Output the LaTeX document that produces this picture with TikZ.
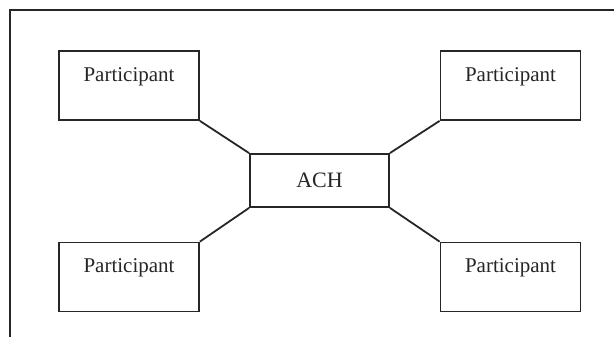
\documentclass[tikz,border=0pt]{standalone}
\usepackage{fontspec}
\setmainfont{Liberation Serif}
\begin{document}
\begin{tikzpicture}[x=1pt,y=-1pt,
  line/.style={draw=black!85, line width=1.8pt},
  pbox/.style={line, rectangle, minimum width=140pt, minimum height=69pt, inner sep=0pt},
  ptext/.style={anchor=base, yshift=-31pt, font=\fontsize{21}{25}\selectfont, text=black!85}]
\useasboundingbox (0,0) rectangle (614,337);
\draw[draw=black!85, line width=1.3pt] (614,10) -- (10,10) -- (10,337);
\node[pbox, label={[ptext]north:Participant}] (tl) at (129,85.5) {};
\node[pbox, label={[ptext]north:Participant}] (tr) at (510.5,85.5) {};
\node[pbox, label={[ptext]north:Participant}] (bl) at (129,277) {};
\node[pbox, label={[ptext]north:Participant}] (br) at (510.5,277) {};
\node[line, rectangle, minimum width=139pt, minimum height=53pt, inner sep=0pt,
  font=\fontsize{22}{26}\selectfont, text=black!85] (ach) at (319.5,180.5) {ACH};
\draw[line] (tl.south east) -- (ach.north west);
\draw[line] (tr.south west) -- (ach.north east);
\draw[line] (bl.north east) -- (ach.south west);
\draw[line] (br.north west) -- (ach.south east);
\end{tikzpicture}
\end{document}
